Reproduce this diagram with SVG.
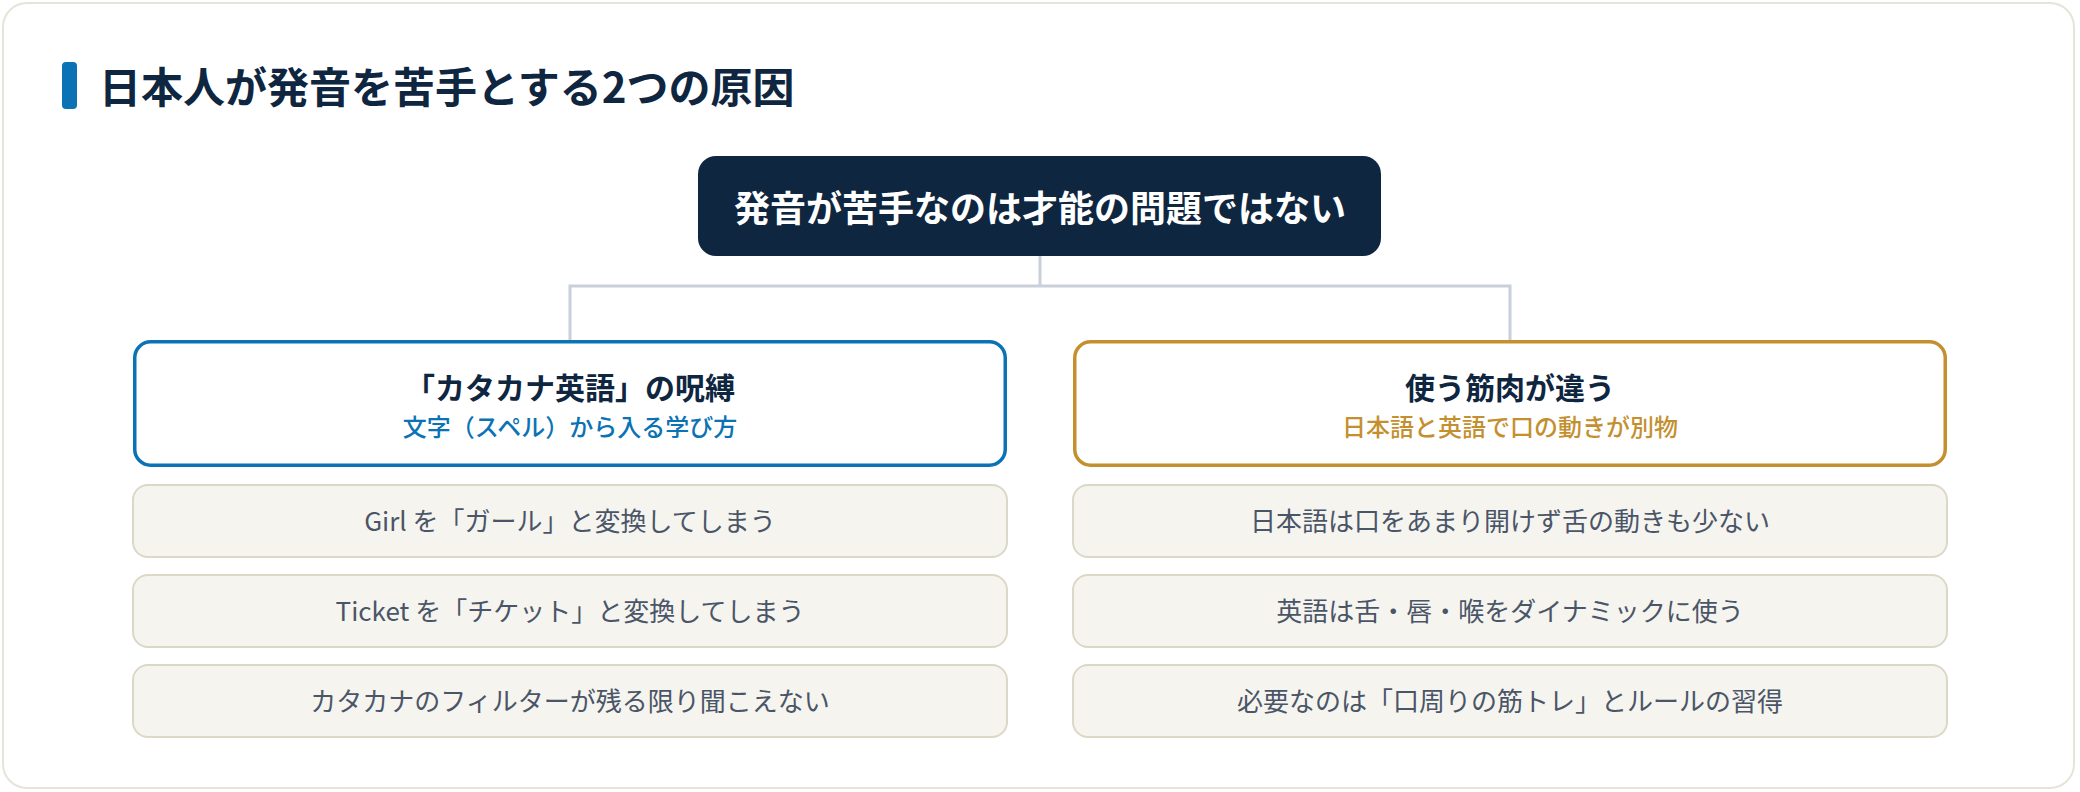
<svg xmlns="http://www.w3.org/2000/svg" width="2080" height="792" viewBox="0 0 2080 792">
<style>
.jp{font-family:"Noto Sans CJK JP","Noto Sans",sans-serif}
.title{font-size:42px;font-weight:700;fill:#0f2640}
.root-t{font-size:36px;font-weight:700;fill:#ffffff}
.ct{font-size:30px;font-weight:700;fill:#0f2640}
.sub{font-size:24px;font-weight:500}
.item{fill:#f6f4ef;stroke:#dcd8c8;stroke-width:2}
.it{font-size:26px;font-weight:400;fill:#4a5668}
.conn{fill:none;stroke:#c9d0da;stroke-width:3}
</style>
<rect x="3" y="3" width="2071" height="785" rx="24" fill="#ffffff" stroke="#e6e3d8" stroke-width="2"/>
<g id="heading">
<rect x="62" y="62" width="15" height="47" rx="4" fill="#0a72b5"/>
<text class="jp title" x="99" y="103">日本人が発音を苦手とする2つの原因</text>
</g>
<g id="connectors">
<path class="conn" d="M1040 256 V286 M570 340 V286 H1510 V340"/>
</g>
<g id="root">
<rect x="698" y="156" width="683" height="100" rx="18" fill="#0f2640"/>
<text class="jp root-t" x="1040" y="222" text-anchor="middle">発音が苦手なのは才能の問題ではない</text>
</g>
<g id="cause-left">
<rect x="134.75" y="341.75" width="870.5" height="123.5" rx="16" fill="#ffffff" stroke="#0a72b5" stroke-width="3.5"/>
<text class="jp ct" x="570" y="399" text-anchor="middle">「カタカナ英語」の呪縛</text>
<text class="jp sub" x="570" y="436" text-anchor="middle" fill="#0a72b5">文字（スペル）から入る学び方</text>
</g>
<g id="cause-right">
<rect x="1074.75" y="341.75" width="870.5" height="123.5" rx="16" fill="#ffffff" stroke="#c4902f" stroke-width="3.5"/>
<text class="jp ct" x="1510" y="399" text-anchor="middle">使う筋肉が違う</text>
<text class="jp sub" x="1510" y="436" text-anchor="middle" fill="#c4902f">日本語と英語で口の動きが別物</text>
</g>
<g id="left-item-1">
<rect class="item" x="133" y="485" width="874" height="72" rx="15"/>
<text class="jp it" x="570" y="531" text-anchor="middle">Girl を「ガール」と変換してしまう</text>
</g>
<g id="left-item-2">
<rect class="item" x="133" y="575" width="874" height="72" rx="15"/>
<text class="jp it" x="570" y="621" text-anchor="middle">Ticket を「チケット」と変換してしまう</text>
</g>
<g id="left-item-3">
<rect class="item" x="133" y="665" width="874" height="72" rx="15"/>
<text class="jp it" x="570" y="711" text-anchor="middle">カタカナのフィルターが残る限り聞こえない</text>
</g>
<g id="right-item-1">
<rect class="item" x="1073" y="485" width="874" height="72" rx="15"/>
<text class="jp it" x="1510" y="531" text-anchor="middle">日本語は口をあまり開けず舌の動きも少ない</text>
</g>
<g id="right-item-2">
<rect class="item" x="1073" y="575" width="874" height="72" rx="15"/>
<text class="jp it" x="1510" y="621" text-anchor="middle">英語は舌・唇・喉をダイナミックに使う</text>
</g>
<g id="right-item-3">
<rect class="item" x="1073" y="665" width="874" height="72" rx="15"/>
<text class="jp it" x="1510" y="711" text-anchor="middle">必要なのは「口周りの筋トレ」とルールの習得</text>
</g>
</svg>
